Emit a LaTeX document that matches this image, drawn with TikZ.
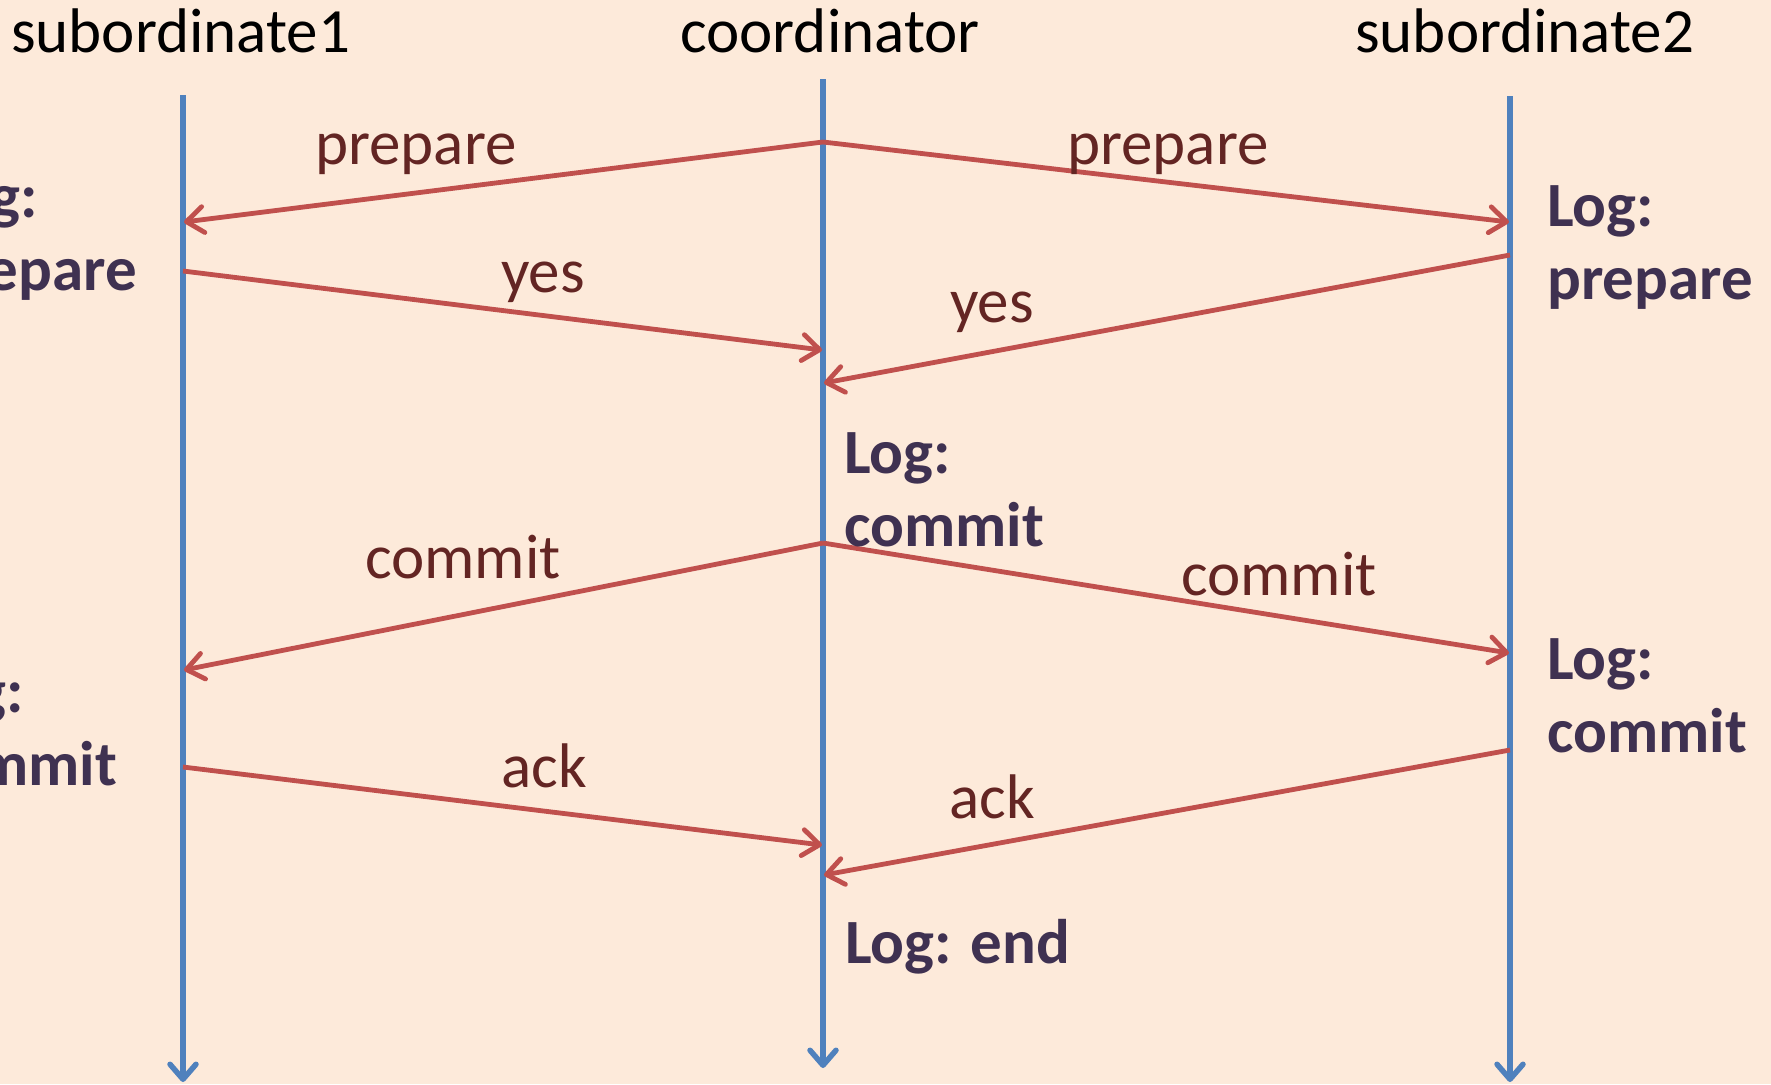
\documentclass[tikz,border=0pt]{standalone}
\usepackage{fontspec}
\setmainfont{Carlito}
\usetikzlibrary{arrows.meta}
\definecolor{bg}{HTML}{FDEADA}
\definecolor{msg}{HTML}{C0504D}
\definecolor{life}{HTML}{4F81BD}
\definecolor{lbl}{HTML}{632523}
\definecolor{logc}{HTML}{3F3151}
\begin{document}
\begin{tikzpicture}[x=1pt,y=-1pt,
  big/.style={font=\fontsize{63}{72}\selectfont, inner sep=0pt, anchor=base west},
  title/.style={big, text=black},
  lab/.style={big, text=lbl},
  logtxt/.style={inner sep=0pt, anchor=base west, text=logc, font=\fontsize{63}{73}\selectfont\bfseries, align=left},
  msgarrow/.style={draw=msg, line width=4.8pt, -{Straight Barb[length=17pt,width=26pt,round]}},
  lifeline/.style={draw=life, line width=5.5pt, -{Straight Barb[length=15pt,width=26pt,round]}}]
\useasboundingbox (0,0) rectangle (1771,1084);
\fill[bg] (0,0) rectangle (1771,1084);
% titles
\node[title] (t1) at (11,52) {subordinate1};
\node[title] (tc) at (680,52) {coordinator};
\node[title] (t2) at (1355,52) {subordinate2};
% lifeline ends
\coordinate (s1top) at (183,95);  \coordinate (s1bot) at (183,1082);
\coordinate (ctop) at (823,79);   \coordinate (cbot) at (823,1068);
\coordinate (s2top) at (1510,96); \coordinate (s2bot) at (1510,1082);
\draw[lifeline] (s1top) -- (s1bot);
\draw[lifeline] (ctop) -- (cbot);
\draw[lifeline] (s2top) -- (s2bot);
% message endpoints
\coordinate (cprep) at (823,142);
\coordinate (s1prep) at (184,222);
\coordinate (s2prep) at (1509,222);
\coordinate (s1yes) at (183,271);
\coordinate (cyes1) at (822,350);
\coordinate (s2yes) at (1510,255);
\coordinate (cyes2) at (824,383);
\coordinate (ccom) at (823,543);
\coordinate (s1com) at (184,670);
\coordinate (s2com) at (1509,653);
\coordinate (s1ack) at (183,767);
\coordinate (cack1) at (822,845);
\coordinate (s2ack) at (1510,750);
\coordinate (cack2) at (824,875);
\draw[msgarrow] (cprep) -- (s1prep);
\draw[msgarrow] (cprep) -- (s2prep);
\draw[msgarrow] (s1yes) -- (cyes1);
\draw[msgarrow] (s2yes) -- (cyes2);
\draw[msgarrow] (ccom) -- (s1com);
\draw[msgarrow] (ccom) -- (s2com);
\draw[msgarrow] (s1ack) -- (cack1);
\draw[msgarrow] (s2ack) -- (cack2);
% message labels
\node[lab] (lp1) at (315,164) {prepare};
\node[lab] (lp2) at (1067,164) {prepare};
\node[lab] (ly1) at (501,292) {yes};
\node[lab] (ly2) at (950,322) {yes};
\node[lab] (lc1) at (365,578) {commit};
\node[lab] (lc2) at (1181,595) {commit};
\node[lab] (la1) at (501,787) {ack};
\node[lab] (la2) at (949,818) {ack};
% log texts (base anchor = baseline of last line)
\node[logtxt] (g1) at (-69,290) {Log:\\prepare};
\node[logtxt] (g2) at (1547,299) {Log:\\prepare};
\node[logtxt] (g3) at (844,546) {Log:\\commit};
\node[logtxt] (g4) at (-83,785) {Log:\\commit};
\node[logtxt] (g5) at (1547,752) {Log:\\commit};
\node[logtxt] (g6) at (845,963) {Log: end};
\end{tikzpicture}
\end{document}
